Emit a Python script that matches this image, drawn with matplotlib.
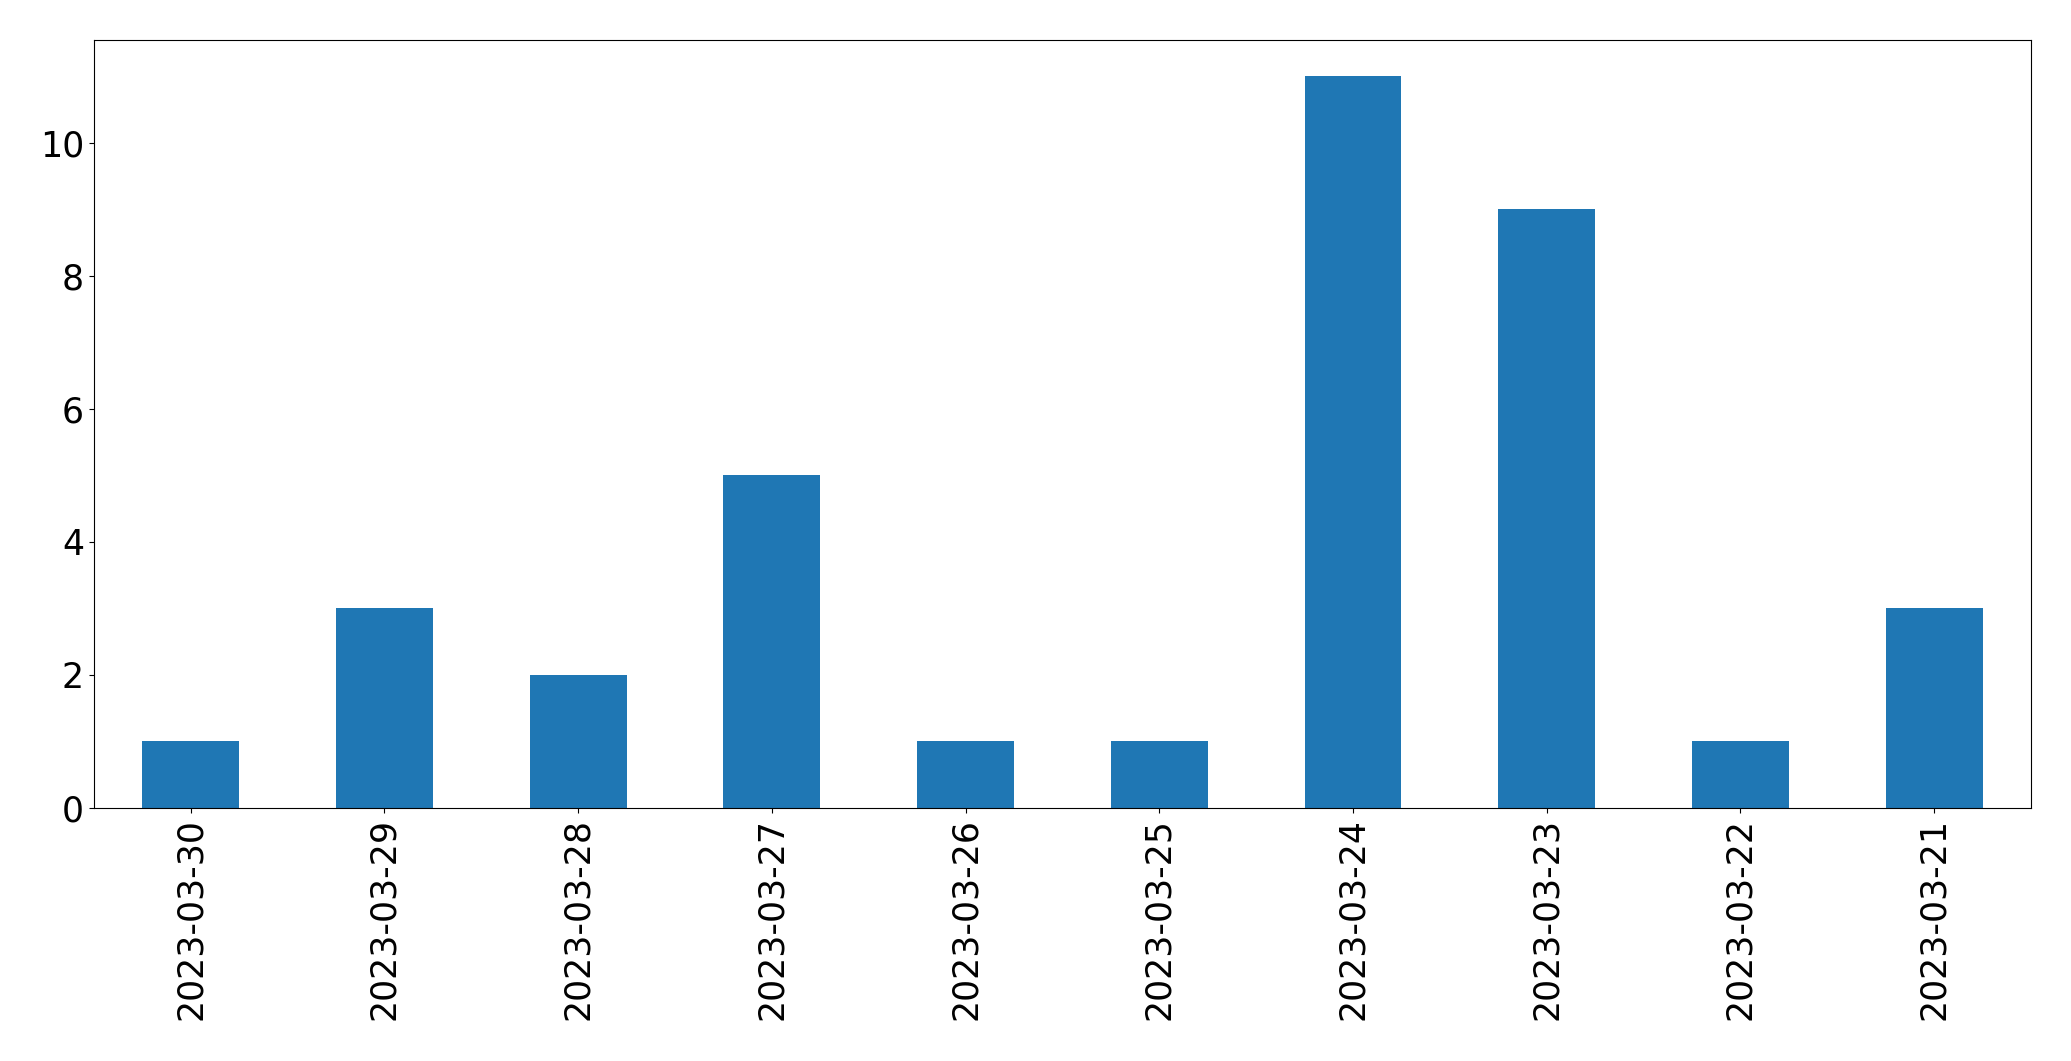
import matplotlib.pyplot as plt
import numpy as np

dates = ['2023-03-30', '2023-03-29', '2023-03-28', '2023-03-27', '2023-03-26',
         '2023-03-25', '2023-03-24', '2023-03-23', '2023-03-22', '2023-03-21']
counts = [1, 3, 2, 5, 1, 1, 11, 9, 1, 3]

fig = plt.figure(figsize=(20.71, 10.61), dpi=100)
ax = fig.add_axes([0.0453, 0.2385, 0.9354, 0.7242])

x = np.arange(len(dates))
ax.bar(x, counts, width=0.5, color='#1f77b4')
ax.set_xlim(-0.5, len(dates) - 0.5)
ax.set_ylim(0, max(counts) * 1.05)
ax.set_xticks(x)
ax.set_xticklabels(dates, rotation=90)
ax.set_yticks([0, 2, 4, 6, 8, 10])
ax.tick_params(labelsize=25)

fig.savefig('out.png', dpi=100)
